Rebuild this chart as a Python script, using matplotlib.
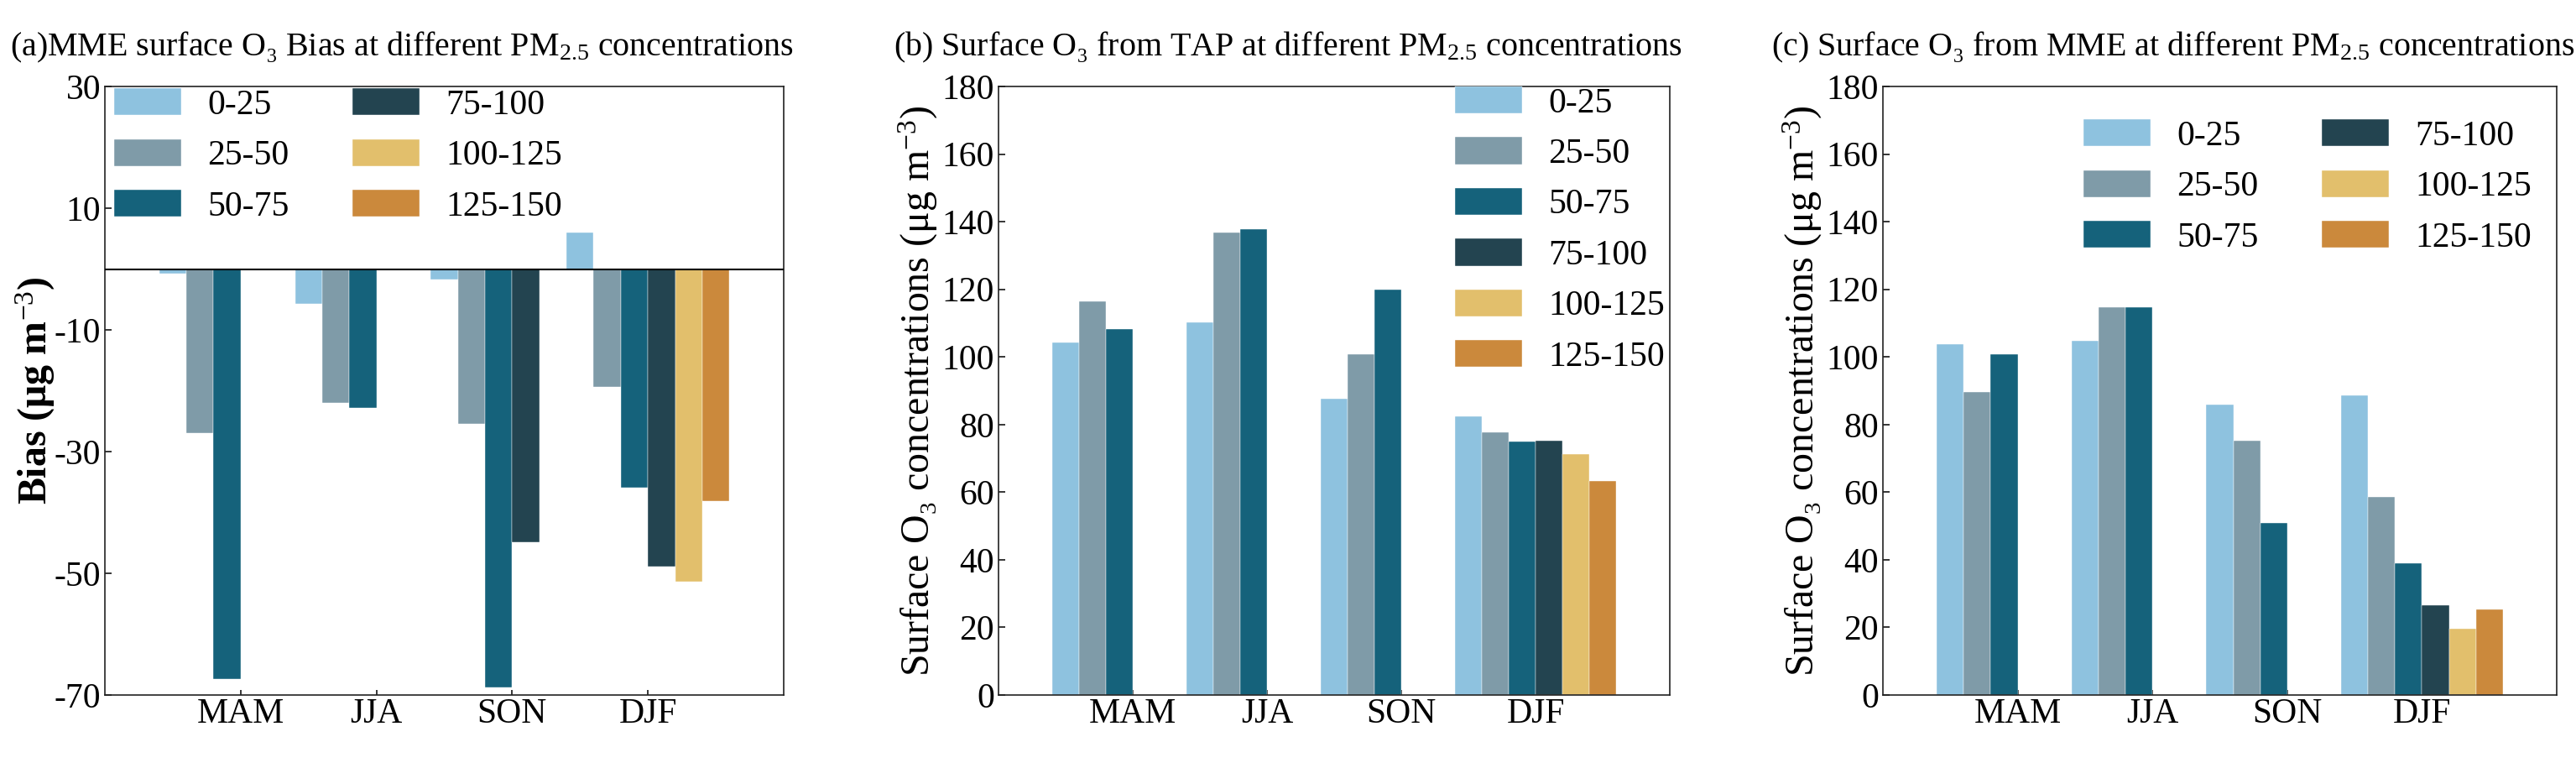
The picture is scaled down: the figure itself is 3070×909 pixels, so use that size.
import numpy as np
import matplotlib
matplotlib.use("Agg")
import matplotlib.pyplot as plt

plt.rcParams['font.family'] = ['Liberation Serif', 'DejaVu Serif']
plt.rcParams['mathtext.fontset'] = 'custom'
plt.rcParams['mathtext.rm'] = 'Liberation Serif'
plt.rcParams['mathtext.it'] = 'Liberation Serif:italic'
plt.rcParams['mathtext.bf'] = 'Liberation Serif:bold'
plt.rcParams['axes.unicode_minus'] = False

nan = np.nan

seasons = ["MAM", "JJA", "SON", "DJF"]
pm_bins = ["0-25", "25-50", "50-75", "75-100", "100-125", "125-150"]
bin_colors = ["#8EC2DF", "#7F9BA8", "#15627B", "#234450", "#E2BF6C", "#CB893C"]

# one row per PM2.5 bin, one column per season
bias_mme = [
    [-0.7, -5.7, -1.7, 6.0],
    [-26.9, -22.0, -25.5, -19.4],
    [-67.4, -22.8, -68.8, -35.9],
    [nan, nan, -44.9, -48.9],
    [nan, nan, nan, -51.4],
    [nan, nan, nan, -38.2],
]
o3_tap = [
    [104.3, 110.3, 87.6, 82.5],
    [116.5, 136.7, 100.7, 77.8],
    [108.3, 137.7, 119.8, 75.0],
    [nan, nan, nan, 75.3],
    [nan, nan, nan, 71.3],
    [nan, nan, nan, 63.4],
]
o3_mme = [
    [103.7, 104.8, 86.0, 88.7],
    [89.7, 114.8, 75.2, 58.5],
    [100.7, 114.8, 51.0, 39.0],
    [nan, nan, nan, 26.5],
    [nan, nan, nan, 19.7],
    [nan, nan, nan, 25.3],
]

TICK_FS = 30
LEG_FS = 30
LAB_FS = 34.5
TITLE_FS = 28.8

W, H = 3070, 909
fig = plt.figure(figsize=(W / 100, H / 100), dpi=100)

leg_kw = dict(frameon=False, fontsize=LEG_FS, borderpad=0, borderaxespad=0,
              handlelength=1.92, handleheight=0.815, handletextpad=0.75,
              labelspacing=0.5, columnspacing=1.82)


def px_axes(left, right, top=103, bottom=828):
    return fig.add_axes([left / W, (H - bottom) / H, (right - left) / W, (bottom - top) / H])


def draw_bars(ax, data):
    x = np.arange(len(seasons))
    w = 0.2
    for i, (lab, col, vals) in enumerate(zip(pm_bins, bin_colors, data)):
        ax.bar(x + (i - 2.5) * w, np.array(vals, dtype=float), w, color=col,
               label=lab, edgecolor="white", linewidth=0.3, zorder=2)
    ax.set_xticks(x, seasons)
    ax.set_xlim(-1, 4)
    ax.tick_params(axis="both", direction="in", labelsize=TICK_FS, width=1.1)
    ax.tick_params(axis="y", length=6)
    ax.tick_params(axis="x", length=4, pad=2.5)
    for s in ax.spines.values():
        s.set_linewidth(1.2)
        s.set_color("#222222")


ax_a = px_axes(125, 934)
ax_b = px_axes(1190, 1990)
ax_c = px_axes(2244, 3047)

# (a) bias
draw_bars(ax_a, bias_mme)
ax_a.axhline(0, color="black", linewidth=1.5, zorder=3)
ax_a.set_ylim(-70, 30)
ax_a.set_yticks(np.arange(-70, 31, 20))
ax_a.set_ylabel("Bias (μg m$^{-3}$)", fontsize=LAB_FS, fontweight="bold")
ax_a.yaxis.set_label_coords(-0.071, 0.5)
ax_a.legend(loc="upper left", bbox_to_anchor=(0.0136, 0.997), ncol=2, **leg_kw)

# (b) TAP
draw_bars(ax_b, o3_tap)
ax_b.set_ylim(0, 180)
ax_b.set_yticks(np.arange(0, 181, 20))
ax_b.set_ylabel("Surface O₃ concentrations (μg m$^{-3}$)", fontsize=LAB_FS)
ax_b.yaxis.set_label_coords(-0.087, 0.5)
ax_b.legend(loc="upper left", bbox_to_anchor=(0.68, 1.0), ncol=1, **leg_kw)

# (c) MME
draw_bars(ax_c, o3_mme)
ax_c.set_ylim(0, 180)
ax_c.set_yticks(np.arange(0, 181, 20))
ax_c.set_ylabel("Surface O₃ concentrations (μg m$^{-3}$)", fontsize=LAB_FS)
ax_c.yaxis.set_label_coords(-0.087, 0.5)
ax_c.legend(loc="upper left", bbox_to_anchor=(0.2976, 0.946), ncol=2, **leg_kw)

title_y = 1 - 66.7 / H
fig.text(479 / W, title_y, "(a)MME surface O₃ Bias at different PM$_{2.5}$ concentrations",
         fontsize=TITLE_FS, ha="center", va="baseline")
fig.text(1535 / W, title_y, "(b) Surface O₃ from TAP at different PM$_{2.5}$ concentrations",
         fontsize=TITLE_FS, ha="center", va="baseline")
fig.text(2590 / W, title_y, "(c) Surface O₃ from MME at different PM$_{2.5}$ concentrations",
         fontsize=TITLE_FS, ha="center", va="baseline")

fig.savefig("out.png", dpi=100)
